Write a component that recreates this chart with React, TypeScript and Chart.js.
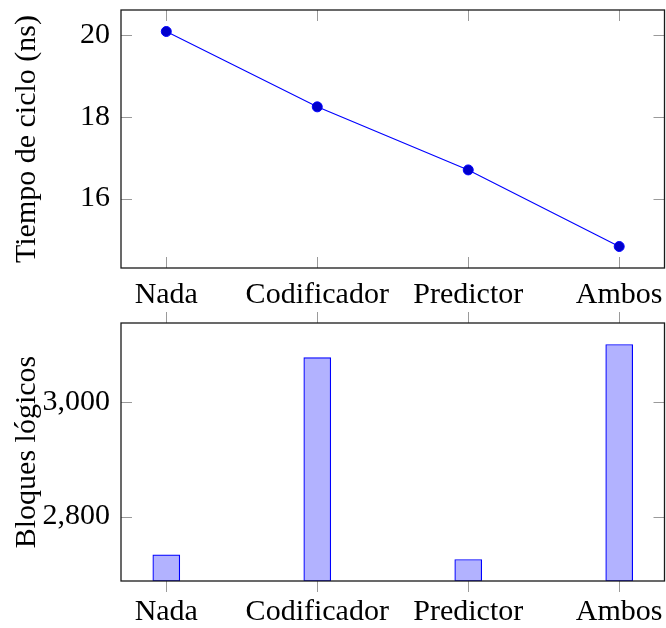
import React, { useEffect, useRef } from "react";
import { Chart, registerables } from "chart.js";

Chart.register(...registerables);

// ---- data ----
const categories = ["Nada", "Codificador", "Predictor", "Ambos"];
const cycleTimeNs = [20.08, 18.24, 16.7, 14.83];
const logicBlocks = [2733, 3077, 2725, 3100];
const cycleTicks = [16, 18, 20];
const blockTicks = [2800, 3000];

const FONT = "'Liberation Serif', 'Times New Roman', serif";
const FONT_SIZE = 30;
const W = 666;

function enlarged(values: number[], frac = 0.1): [number, number] {
  const lo = Math.min(...values);
  const hi = Math.max(...values);
  const pad = (hi - lo) * frac;
  return [lo - pad, hi + pad];
}

const framePlugin = {
  id: "frameTicks",
  afterDraw(chart: any, _args: any, opts: any) {
    const { ctx, chartArea: a, scales } = chart;
    const xs = scales.x;
    const ys = scales.y;
    const L = 11;
    ctx.save();
    ctx.strokeStyle = "#9a9a9a";
    ctx.lineWidth = 1;
    ctx.beginPath();
    xs.ticks.forEach((t: any) => {
      const px = Math.round(xs.getPixelForValue(t.value)) + 0.5;
      if (opts.xOut) {
        ctx.moveTo(px, a.bottom);
        ctx.lineTo(px, a.bottom + L);
        ctx.moveTo(px, a.top);
        ctx.lineTo(px, a.top - L);
      } else {
        ctx.moveTo(px, a.bottom);
        ctx.lineTo(px, a.bottom - L);
        ctx.moveTo(px, a.top);
        ctx.lineTo(px, a.top + L);
      }
    });
    ys.ticks.forEach((t: any) => {
      const py = Math.round(ys.getPixelForValue(t.value)) + 0.5;
      ctx.moveTo(a.left, py);
      ctx.lineTo(a.left + L, py);
      ctx.moveTo(a.right, py);
      ctx.lineTo(a.right - L, py);
    });
    ctx.stroke();
    ctx.strokeStyle = "#1a1a1a";
    ctx.lineWidth = 1.3;
    ctx.strokeRect(a.left, a.top, a.right - a.left, a.bottom - a.top);
    ctx.restore();
  },
};

function xScale(labelPadding: number, axisHeight: number) {
  return {
    type: "linear",
    offset: false,
    min: -0.3,
    max: categories.length - 1 + 0.3,
    grid: { display: false, drawTicks: false, offset: false },
    border: { display: false },
    afterBuildTicks: (s: any) => {
      s.ticks = categories.map((_, i) => ({ value: i }));
    },
    afterFit: (s: any) => {
      s.height = axisHeight;
      s.paddingLeft = 0;
      s.paddingRight = 0;
    },
    ticks: {
      padding: labelPadding,
      autoSkip: false,
      maxRotation: 0,
      color: "#000",
      font: { family: FONT, size: FONT_SIZE },
      callback: (v: any) => categories[Math.round(Number(v))] ?? "",
    },
  };
}

function yScale(
  range: [number, number],
  tickVals: number[],
  title: string,
  fmt: (v: number) => string
) {
  return {
    type: "linear",
    min: range[0],
    max: range[1],
    grid: { display: false, drawTicks: false },
    border: { display: false },
    afterBuildTicks: (s: any) => {
      s.ticks = tickVals.map((v) => ({ value: v }));
    },
    afterFit: (s: any) => {
      s.width = 121;
      s.paddingTop = 0;
      s.paddingBottom = 0;
    },
    ticks: {
      padding: 11,
      color: "#000",
      font: { family: FONT, size: FONT_SIZE },
      callback: (v: any) => fmt(Number(v)),
    },
    title: {
      display: true,
      text: title,
      color: "#000",
      padding: { top: 9, bottom: 0 },
      font: { family: FONT, size: FONT_SIZE, lineHeight: 1.2 },
    },
  };
}

function ChartCanvas({ height, top, makeConfig }: { height: number; top: number; makeConfig: () => any }) {
  const ref = useRef<HTMLCanvasElement | null>(null);
  useEffect(() => {
    if (!ref.current) return;
    const chart = new Chart(ref.current, makeConfig());
    return () => chart.destroy();
  }, []);
  return (
    <canvas
      ref={ref}
      width={W}
      height={height}
      style={{ position: "absolute", left: 0, top, width: W, height }}
    />
  );
}

function topConfig() {
  return {
    type: "line",
    data: {
      datasets: [
        {
          data: cycleTimeNs.map((v, i) => ({ x: i, y: v })),
          borderColor: "#0000ff",
          borderWidth: 1.1,
          pointRadius: 5,
          pointBorderWidth: 1,
          pointBorderColor: "#0000ff",
          pointBackgroundColor: "#0000cc",
          fill: false,
          tension: 0,
        },
      ],
    },
    options: {
      animation: false,
      responsive: false,
      layout: { autoPadding: false, padding: { top: 10, right: 1.5, left: 0, bottom: 0 } },
      plugins: { legend: { display: false }, tooltip: { enabled: false }, frameTicks: { xOut: false } },
      scales: {
        x: xScale(9, 42),
        y: yScale(enlarged(cycleTimeNs), cycleTicks, "Tiempo de ciclo (ns)", (v) => String(v)),
      },
    },
    plugins: [framePlugin],
  };
}

function bottomConfig() {
  const range = enlarged(logicBlocks);
  return {
    type: "bar",
    data: {
      datasets: [
        {
          data: logicBlocks.map((v, i) => ({ x: i, y: v })),
          base: range[0],
          backgroundColor: "rgb(178,178,255)",
          borderColor: "#0000ff",
          borderWidth: 1.2,
          borderSkipped: false,
          barThickness: 27,
        },
      ],
    },
    options: {
      animation: false,
      responsive: false,
      layout: { autoPadding: false, padding: { top: 13, right: 1.5, left: 0, bottom: 0 } },
      plugins: { legend: { display: false }, tooltip: { enabled: false }, frameTicks: { xOut: true } },
      scales: {
        x: xScale(13, 47),
        y: yScale(range, blockTicks, "Bloques lógicos", (v) => v.toLocaleString("en-US")),
      },
    },
    plugins: [framePlugin],
  };
}

export default function App() {
  return (
    <div style={{ position: "absolute", left: 0, top: 0, width: W, height: 628, background: "#fff" }}>
      <ChartCanvas height={310} top={0} makeConfig={topConfig} />
      <ChartCanvas height={318} top={310} makeConfig={bottomConfig} />
    </div>
  );
}
